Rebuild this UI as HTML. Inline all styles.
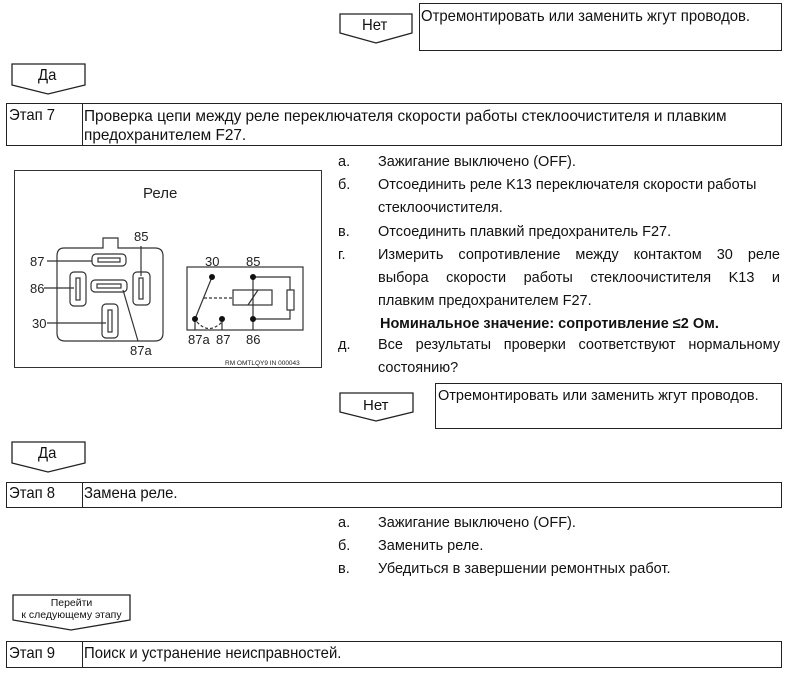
<!DOCTYPE html>
<html><head><meta charset="utf-8"><style>
body{margin:0;width:789px;height:675px;background:#fff;position:relative;overflow:hidden;font-family:"Liberation Sans","Noto Sans CJK SC",sans-serif;color:#111;}
.a{position:absolute;white-space:nowrap;}
.t{font-size:14px;}
.n{font-size:16px;transform:scaleX(0.93);transform-origin:0 0;}
.box{position:absolute;border:1px solid #222;box-sizing:border-box;}
.row{position:absolute;border-top:1.5px solid #222;border-bottom:1.5px solid #222;border-left:1px solid #222;box-sizing:border-box;}
.row .d{position:absolute;left:75px;top:0;bottom:0;border-left:1.5px solid #222;}
.li{position:absolute;left:338px;font-size:14.5px;line-height:23px;}
.li span{position:absolute;left:40px;white-space:nowrap;}
.j{position:absolute;left:378px;width:402px;font-size:14.5px;line-height:23px;text-align:justify;text-align-last:justify;}
</style></head><body>
<svg class="a" style="left:0;top:0" width="789" height="675">
<g fill="#fff" stroke="#222" stroke-width="1.3">
<path d="M340 14 H412 V33 L376 43 L340 33 Z"/>
<path d="M12 64 H85 V85 L48 94 L12 85 Z"/>
<path d="M340 393 H413 V412 L376 421 L340 412 Z"/>
<path d="M12 442 H85 V463 L48 472 L12 463 Z"/>
<path d="M13 595 H130 V620 L71 630 L13 620 Z"/>
</g>
<rect x="14.5" y="170.5" width="307" height="197" fill="none" stroke="#333" stroke-width="1"/>
<g fill="none" stroke="#333" stroke-width="1.2">
<path d="M64 248 H103 V238 H118 V248 H155 Q163 248 163 256 V333 Q163 341 155 341 H65 Q57 341 57 333 V256 Q57 248 64 248 Z"/>
<rect x="92" y="254" width="34" height="12" rx="4"/><rect x="98" y="258" width="22" height="4"/>
<rect x="70" y="272" width="16" height="34" rx="4"/><rect x="76" y="278" width="4" height="22"/>
<rect x="91" y="280" width="36" height="12" rx="4"/><rect x="97" y="284" width="24" height="4"/>
<rect x="133" y="272" width="17" height="33" rx="4"/><rect x="139" y="278" width="4" height="21"/>
<rect x="102" y="304" width="16" height="34" rx="4"/><rect x="108" y="310" width="4" height="22"/>
<path d="M47 261 H92 M44 288 H74 M47 323 H106 M141 246 V276 M123 290 L138 341"/>
<rect x="187" y="267" width="116" height="63"/>
<path d="M212 277 L195 319 M195 319 V330 M222 319 V330 M253 277 V319 M253 330 V319 M253 277 H290 V290 M253 319 H290 V310"/>
<rect x="233" y="290" width="39" height="15"/><path d="M248 305 L258 290"/>
<rect x="287" y="290" width="7" height="20"/>
<path d="M204 298 H233" stroke-dasharray="3 2"/>
<path d="M197 322 Q209 335 222 322" stroke-dasharray="3 2"/>
</g>
<g fill="#111"><circle cx="212" cy="277" r="3"/><circle cx="253" cy="277" r="3"/><circle cx="195" cy="319" r="3"/><circle cx="222" cy="319" r="3"/><circle cx="253" cy="319" r="3"/></g>
<g font-family="Liberation Sans,sans-serif" font-size="13" fill="#222">
<text x="143" y="198" font-size="15">Реле</text>
<text x="30" y="266">87</text><text x="30" y="293">86</text><text x="32" y="328">30</text>
<text x="134" y="241">85</text><text x="130" y="355">87a</text>
<text x="205" y="266">30</text><text x="246" y="266">85</text>
<text x="188" y="344">87a</text><text x="216" y="344">87</text><text x="246" y="344">86</text>
<text x="225" y="365" font-size="6.5">RM OMTLQY9 IN 000043</text>
</g>
</svg>
<div class="a n" style="left:362px;top:17px">Нет</div>
<div class="box" style="left:419px;top:3px;width:363px;height:48px"></div>
<div class="a n" style="left:421px;top:8px">Отремонтировать или заменить жгут проводов.</div>
<div class="a n" style="left:38px;top:67px">Да</div>
<div class="row" style="left:6px;top:103px;width:776px;height:43px;border-right:1px solid #222"><div class="d"></div></div>
<div class="a n" style="left:9px;top:107px">Этап 7</div>
<div class="a n" style="left:84px;top:107px;line-height:19px;transform:scaleX(0.96)">Проверка цепи между реле переключателя скорости работы стеклоочистителя и плавким<br>предохранителем F27.</div>

<div class="li" style="top:151px">а.<span>Зажигание выключено (OFF).</span></div>
<div class="li" style="top:174px">б.<span>Отсоединить реле K13 переключателя скорости работы</span></div>
<div class="li" style="top:197px"><span>стеклоочистителя.</span></div>
<div class="li" style="top:221px">в.<span>Отсоединить плавкий предохранитель F27.</span></div>
<div class="li" style="top:244px">г.</div>
<div class="j" style="top:244px">Измерить сопротивление между контактом 30 реле</div>
<div class="j" style="top:267px">выбора скорости работы стеклоочистителя K13 и</div>
<div class="li" style="top:290px"><span>плавким предохранителем F27.</span></div>
<div class="li" style="top:313px"><span style="font-weight:bold;left:42px">Номинальное значение: сопротивление ≤2 Ом.</span></div>
<div class="li" style="top:334px">д.</div>
<div class="j" style="top:334px">Все результаты проверки соответствуют нормальному</div>
<div class="li" style="top:357px"><span>состоянию?</span></div>

<div class="a t" style="left:363px;top:397px;font-size:15px">Нет</div>
<div class="box" style="left:435px;top:383px;width:347px;height:46px"></div>
<div class="a t" style="left:438px;top:388px;font-size:14.5px">Отремонтировать или заменить жгут проводов.</div>
<div class="a n" style="left:38px;top:445px">Да</div>
<div class="row" style="left:6px;top:482px;width:776px;height:26px;border-right:1px solid #222"><div class="d"></div></div>
<div class="a n" style="left:9px;top:485px">Этап 8</div>
<div class="a n" style="left:84px;top:485px">Замена реле.</div>
<div class="li" style="top:512px">а.<span>Зажигание выключено (OFF).</span></div>
<div class="li" style="top:535px">б.<span>Заменить реле.</span></div>
<div class="li" style="top:558px">в.<span>Убедиться в завершении ремонтных работ.</span></div>
<div class="a" style="left:13px;top:597px;width:117px;text-align:center;font-size:10.5px;line-height:12px">Перейти<br>к следующему этапу</div>
<div class="row" style="left:6px;top:641px;width:776px;height:27px;border-right:1px solid #222"><div class="d"></div></div>
<div class="a n" style="left:9px;top:645px">Этап 9</div>
<div class="a n" style="left:84px;top:645px">Поиск и устранение неисправностей.</div>
</body></html>
